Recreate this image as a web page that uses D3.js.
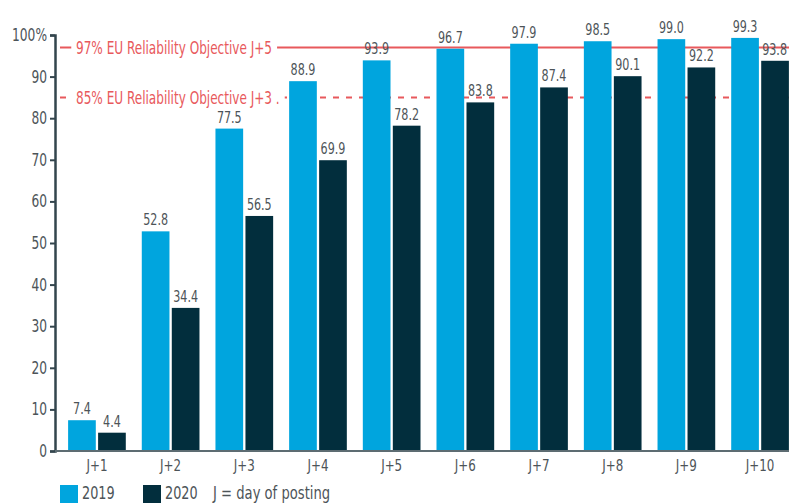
<!DOCTYPE html>
<style>
    body { margin: 0; background: #fff; }
    text { font-family: "DejaVu Sans Condensed", "DejaVu Sans", sans-serif; font-stretch: condensed; }
</style>
<body>
<script src="https://cdn.jsdelivr.net/npm/d3@7"></script>
<script>
var days = ["J+1", "J+2", "J+3", "J+4", "J+5", "J+6", "J+7", "J+8", "J+9", "J+10"];
var values2019 = [7.4, 52.8, 77.5, 88.9, 93.9, 96.7, 97.9, 98.5, 99.0, 99.3];
var values2020 = [4.4, 34.4, 56.5, 69.9, 78.2, 83.8, 87.4, 90.1, 92.2, 93.8];
var yTicks = [0, 10, 20, 30, 40, 50, 60, 70, 80, 90, 100];
var objectives = [
    {value: 97, label: "97% EU Reliability Objective J+5", dashed: false},
    {value: 85, label: "85% EU Reliability Objective J+3 .", dashed: true}
];
var seriesNames = ["2019", "2020"];
var colors = ["#00a5de", "#022e3d"];

var width = 789, height = 504;
var svg = d3.select("body").append("svg")
    .attr("width", width)
    .attr("height", height);

var y = d3.scaleLinear().domain([0, 100]).range([451, 35]);
var x = d3.scaleBand().domain(days).range([60, 797]).paddingInner(0.217).paddingOuter(0.11);
var xs = d3.scaleBand().domain(seriesNames).range([0, x.bandwidth()]).paddingInner(0.077);

// squeeze text horizontally to look like the narrow font of the original
function narrow(sel, cx, cy, k) {
    sel.attr("transform", "translate(" + cx + "," + cy + ") scale(" + k + ",1) translate(" + (-cx) + "," + (-cy) + ")");
}

// objective lines go behind the bars
objectives.forEach(function(o) {
    svg.append("line")
        .attr("x1", 60).attr("x2", width)
        .attr("y1", y(o.value)).attr("y2", y(o.value))
        .attr("stroke", "#e8595c")
        .attr("stroke-width", 2)
        .attr("stroke-dasharray", o.dashed ? "6,7" : null);
    var g = svg.append("g");
    var bg = g.append("rect").attr("fill", "#fff");
    var t = g.append("text")
        .attr("x", 76).attr("y", y(o.value) + 1)
        .attr("dy", "0.35em")
        .attr("fill", "#e8595c")
        .style("font-size", "17px")
        .text(o.label);
    var bb = t.node().getBBox();
    bg.attr("x", bb.x - 6).attr("y", bb.y)
        .attr("width", bb.width + 12).attr("height", bb.height);
    narrow(g, 76, y(o.value), 0.79);
});

var groups = svg.selectAll(".day")
    .data(days)
    .enter().append("g")
    .attr("class", "day")
    .attr("transform", function(d) { return "translate(" + x(d) + ",0)"; });

groups.selectAll("rect")
    .data(function(d, i) { return [values2019[i], values2020[i]]; })
    .enter().append("rect")
    .attr("x", function(d, j) { return xs(seriesNames[j]); })
    .attr("y", function(d) { return y(d); })
    .attr("width", xs.bandwidth())
    .attr("height", function(d) { return y(0) - y(d); })
    .attr("fill", function(d, j) { return colors[j]; });

groups.selectAll(".val")
    .data(function(d, i) { return [values2019[i], values2020[i]]; })
    .enter().append("text")
    .attr("class", "val")
    .attr("y", function(d) { return y(d) - 6; })
    .attr("text-anchor", "middle")
    .attr("fill", "#4d5458")
    .style("font-size", "15.5px")
    .text(function(d) { return d.toFixed(1); })
    .each(function(d, j) {
        var day = d3.select(this.parentNode).datum();
        var cx = xs(seriesNames[j]) + xs.bandwidth() / 2;
        var half = this.getComputedTextLength() * 0.8 / 2;
        // keep the last label inside the picture
        var maxCx = width - 2 - x(day) - half;
        if (cx > maxCx) cx = maxCx;
        d3.select(this).attr("x", cx);
        narrow(d3.select(this), cx, y(d), 0.8);
    });

// axes
var yAxis = svg.append("g")
    .attr("transform", "translate(55,0)")
    .call(d3.axisLeft(y).tickValues(yTicks).tickSize(5)
        .tickFormat(function(d) { return d === 100 ? "100%" : d; }));
yAxis.select(".domain").attr("stroke", "#33454d").attr("stroke-width", 2.5);
yAxis.selectAll(".tick line").attr("stroke", "#33454d").attr("stroke-width", 2);
yAxis.selectAll(".tick text").attr("fill", "#4d5458").style("font-size", "17px").attr("x", -8)
    .attr("transform", "translate(-8,0) scale(0.8,1) translate(8,0)");

var xAxis = svg.append("g")
    .attr("transform", "translate(0," + y(0) + ")")
    .call(d3.axisBottom(x).tickSize(0));
xAxis.select(".domain").attr("d", "M55,0H" + width).attr("stroke", "#5d6c72").attr("stroke-width", 2);
xAxis.selectAll(".tick text").attr("fill", "#4d5458").style("font-size", "16.5px").attr("dy", "1.05em")
    .attr("transform", "scale(0.8,1)");

// legend
var legendItems = [
    {x: 60, color: colors[0], label: seriesNames[0]},
    {x: 143, color: colors[1], label: seriesNames[1]}
];
legendItems.forEach(function(l) {
    svg.append("rect").attr("x", l.x).attr("y", 485).attr("width", 18).attr("height", 18).attr("fill", l.color);
    var t = svg.append("text").attr("x", l.x + 22).attr("y", 499)
        .attr("fill", "#4d5458").style("font-size", "17px").text(l.label);
    narrow(t, l.x + 22, 499, 0.84);
});
var note = svg.append("text").attr("x", 213).attr("y", 499)
    .attr("fill", "#4d5458").style("font-size", "17px").text("J = day of posting");
narrow(note, 213, 499, 0.86);
</script>
</body>
